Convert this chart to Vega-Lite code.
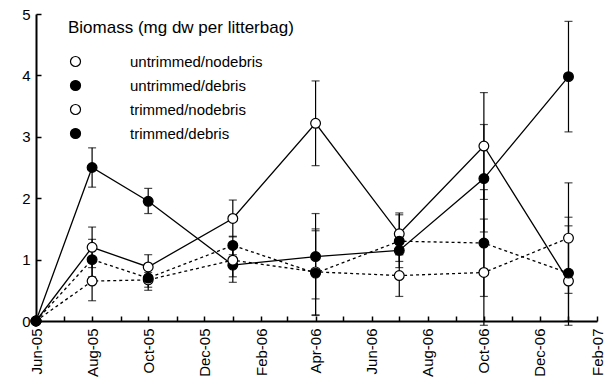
{
  "$schema": "https://vega.github.io/schema/vega-lite/v6.json",
  "autosize": "none",
  "width": 561,
  "height": 307,
  "padding": {"left": 36, "top": 14, "right": 10, "bottom": 71},
  "background": "white",
  "config": {"view": {"stroke": null}, "font": "Liberation Sans"},
  "data": {"values": [
    {"date": "2005-06-01", "series": "untrimmed/nodebris", "biomass": 0, "lo": null, "hi": null},
    {"date": "2005-08-01", "series": "untrimmed/nodebris", "biomass": 1.2, "lo": 0.87, "hi": 1.53},
    {"date": "2005-10-01", "series": "untrimmed/nodebris", "biomass": 0.88, "lo": 0.68, "hi": 1.08},
    {"date": "2006-01-01", "series": "untrimmed/nodebris", "biomass": 1.67, "lo": 1.37, "hi": 1.97},
    {"date": "2006-04-01", "series": "untrimmed/nodebris", "biomass": 3.22, "lo": 2.53, "hi": 3.91},
    {"date": "2006-07-01", "series": "untrimmed/nodebris", "biomass": 1.42, "lo": 1.08, "hi": 1.76},
    {"date": "2006-10-01", "series": "untrimmed/nodebris", "biomass": 2.85, "lo": 1.98, "hi": 3.72},
    {"date": "2007-01-01", "series": "untrimmed/nodebris", "biomass": 0.65, "lo": 0.0, "hi": 1.55},
    {"date": "2005-06-01", "series": "untrimmed/debris", "biomass": 0, "lo": null, "hi": null},
    {"date": "2005-08-01", "series": "untrimmed/debris", "biomass": 2.5, "lo": 2.18, "hi": 2.82},
    {"date": "2005-10-01", "series": "untrimmed/debris", "biomass": 1.95, "lo": 1.75, "hi": 2.16},
    {"date": "2006-01-01", "series": "untrimmed/debris", "biomass": 0.91, "lo": 0.63, "hi": 1.19},
    {"date": "2006-04-01", "series": "untrimmed/debris", "biomass": 1.05, "lo": 0.36, "hi": 1.75},
    {"date": "2006-07-01", "series": "untrimmed/debris", "biomass": 1.15, "lo": 0.97, "hi": 1.33},
    {"date": "2006-10-01", "series": "untrimmed/debris", "biomass": 2.32, "lo": 1.45, "hi": 3.2},
    {"date": "2007-01-01", "series": "untrimmed/debris", "biomass": 3.98, "lo": 3.08, "hi": 4.88},
    {"date": "2005-06-01", "series": "trimmed/nodebris", "biomass": 0, "lo": null, "hi": null},
    {"date": "2005-08-01", "series": "trimmed/nodebris", "biomass": 0.65, "lo": 0.33, "hi": 0.97},
    {"date": "2005-10-01", "series": "trimmed/nodebris", "biomass": 0.67, "lo": 0.55, "hi": 0.79},
    {"date": "2006-01-01", "series": "trimmed/nodebris", "biomass": 0.99, "lo": 0.72, "hi": 1.26},
    {"date": "2006-04-01", "series": "trimmed/nodebris", "biomass": 0.8, "lo": 0.1, "hi": 1.5},
    {"date": "2006-07-01", "series": "trimmed/nodebris", "biomass": 0.74, "lo": 0.4, "hi": 1.08},
    {"date": "2006-10-01", "series": "trimmed/nodebris", "biomass": 0.79, "lo": -0.07, "hi": 1.66},
    {"date": "2007-01-01", "series": "trimmed/nodebris", "biomass": 1.35, "lo": 0.45, "hi": 2.25},
    {"date": "2005-06-01", "series": "trimmed/debris", "biomass": 0, "lo": null, "hi": null},
    {"date": "2005-08-01", "series": "trimmed/debris", "biomass": 1.0, "lo": 0.72, "hi": 1.33},
    {"date": "2005-10-01", "series": "trimmed/debris", "biomass": 0.7, "lo": 0.5, "hi": 0.9},
    {"date": "2006-01-01", "series": "trimmed/debris", "biomass": 1.23, "lo": 1.08, "hi": 1.38},
    {"date": "2006-04-01", "series": "trimmed/debris", "biomass": 0.78, "lo": 0.09, "hi": 1.47},
    {"date": "2006-07-01", "series": "trimmed/debris", "biomass": 1.3, "lo": 0.87, "hi": 1.73},
    {"date": "2006-10-01", "series": "trimmed/debris", "biomass": 1.27, "lo": 0.4, "hi": 2.14},
    {"date": "2007-01-01", "series": "trimmed/debris", "biomass": 0.78, "lo": -0.07, "hi": 1.69}
  ]},
  "encoding": {
    "x": {
      "field": "date", "type": "temporal", "title": null,
      "scale": {"type": "utc", "nice": false, "domain": [{"year": 2005, "month": "jun", "date": 1, "utc": true}, {"year": 2007, "month": "feb", "date": 1, "utc": true}]},
      "axis": {
        "tickCount": {"interval": "month", "step": 1},
        "labelExpr": "utcmonth(datum.value) % 2 == 1 ? utcFormat(datum.value, '%b-%y') : ''",
        "labelAngle": -90, "labelFlush": false, "labelOverlap": false, "labelBound": false,
        "labelFontSize": 15, "labelColor": "black", "labelFont": "Liberation Sans", "labelPadding": 12,
        "tickSize": -5, "tickColor": "black", "tickWidth": 1.5,
        "domainColor": "black", "domainWidth": 2, "grid": false
      }
    }
  },
  "layer": [
    {
      "transform": [{"filter": "datum.hi != null"}],
      "mark": {"type": "errorbar", "ticks": true, "size": 8, "thickness": 1.2, "color": "black"},
      "encoding": {
        "y": {"field": "lo", "type": "quantitative", "title": null},
        "y2": {"field": "hi"}
      }
    },
    {
      "transform": [{"filter": "indexof(datum.series, 'untrimmed') === 0"}],
      "mark": {"type": "line", "color": "black", "strokeWidth": 1.3},
      "encoding": {
        "y": {"field": "biomass", "type": "quantitative", "title": null},
        "detail": {"field": "series"}
      }
    },
    {
      "transform": [{"filter": "indexof(datum.series, 'untrimmed') !== 0"}],
      "mark": {"type": "line", "color": "black", "strokeWidth": 1.3, "strokeDash": [3, 3]},
      "encoding": {
        "y": {"field": "biomass", "type": "quantitative", "title": null},
        "detail": {"field": "series"}
      }
    },
    {
      "mark": {"type": "point", "filled": true, "size": 95, "stroke": "black", "strokeWidth": 1.2, "opacity": 1},
      "encoding": {
        "y": {
          "field": "biomass", "type": "quantitative", "title": null,
          "scale": {"domain": [0, 5], "nice": false},
          "axis": {
            "values": [0, 1, 2, 3, 4, 5], "format": "d", "tickSize": -5, "tickColor": "black", "tickWidth": 1.5,
            "domainColor": "black", "domainWidth": 2, "grid": false,
            "labelFontSize": 15, "labelColor": "black", "labelFont": "Liberation Sans", "labelPadding": 11
          }
        },
        "fill": {
          "field": "series", "type": "nominal",
          "scale": {"domain": ["untrimmed/nodebris", "untrimmed/debris", "trimmed/nodebris", "trimmed/debris"], "range": ["white", "black", "white", "black"]},
          "legend": {
            "title": "Biomass (mg dw per litterbag)",
            "orient": "none", "legendX": 32, "legendY": 6, "padding": 0,
            "titleFontSize": 17, "titleFontWeight": "normal", "titleFont": "Liberation Sans", "titleColor": "black", "titlePadding": 17, "titleLimit": 0,
            "labelFontSize": 15, "labelFont": "Liberation Sans", "labelColor": "black", "labelOffset": 47, "labelLimit": 0,
            "symbolSize": 100, "rowPadding": 8, "symbolStrokeColor": "black", "symbolStrokeWidth": 1.2, "symbolOpacity": 1
          }
        }
      }
    }
  ]
}
